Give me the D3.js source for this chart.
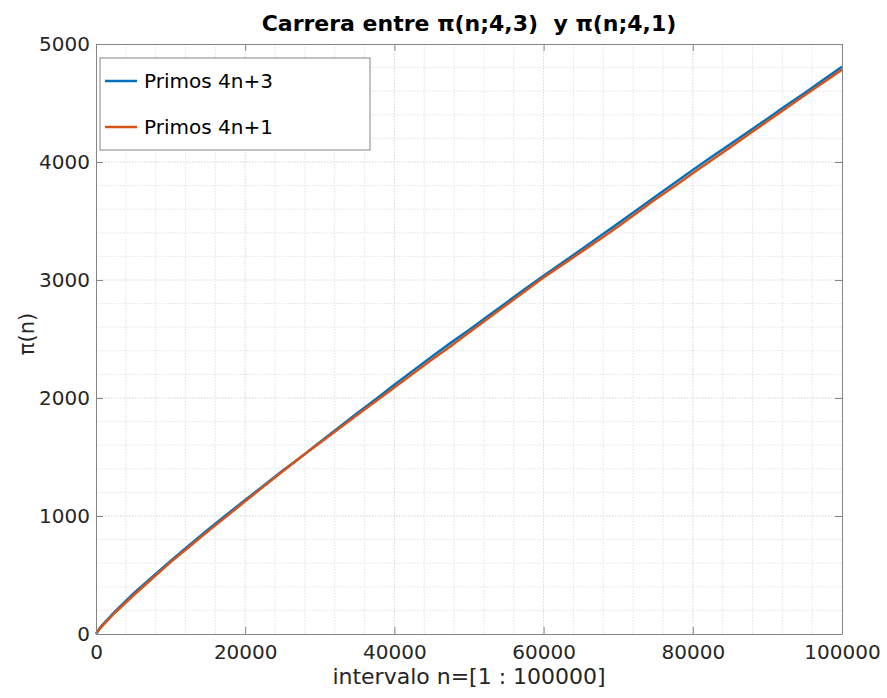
<!DOCTYPE html>
<html lang="es">
<head>
<meta charset="utf-8">
<title>Carrera entre primos</title>
<script src="https://cdn.jsdelivr.net/npm/d3@7"></script>
<style>
  body { margin: 0; background: #fff; }
  svg text { font-family: "DejaVu Sans", sans-serif; fill: #262626; }
</style>
</head>
<body>
<svg width="887" height="698"></svg>
<script>
// muestras de n y conteos
const nValues = [0, 500, 1000, 2500, 5000, 7500, 10000, 12500, 15000, 17500, 20000,
  22500, 25000, 27500, 30000, 32500, 35000, 37500, 40000, 42500, 45000,
  47500, 50000, 52500, 55000, 57500, 60000, 62500, 65000, 67500, 70000,
  72500, 75000, 77500, 80000, 82500, 85000, 87500, 90000, 92500, 95000,
  97500, 100000];
const primos4n3 = [0, 50, 87, 188, 342, 481, 619, 752, 883, 1011, 1136,
  1258, 1384, 1501, 1626, 1749, 1871, 1989, 2112, 2232, 2350,
  2465, 2576, 2693, 2808, 2923, 3035, 3146, 3256, 3369, 3480,
  3594, 3708, 3820, 3932, 4042, 4150, 4258, 4367, 4478, 4585,
  4696, 4808];
const primos4n1 = [0, 44, 80, 178, 326, 468, 609, 739, 870, 997, 1125,
  1251, 1377, 1502, 1618, 1737, 1855, 1973, 2090, 2208, 2324,
  2437, 2556, 2672, 2788, 2905, 3021, 3128, 3236, 3343, 3454,
  3568, 3684, 3793, 3904, 4015, 4124, 4235, 4345, 4455, 4566,
  4674, 4783];
const xTicks = [0, 20000, 40000, 60000, 80000, 100000];
const yTicks = [0, 1000, 2000, 3000, 4000, 5000];
const series = [
  {name: "Primos 4n+3", values: primos4n3, color: "#0072BD"},
  {name: "Primos 4n+1", values: primos4n1, color: "#D95319"}
];

const svg = d3.select("svg");
const m = {left: 96, right: 842, top: 44, bottom: 634};
const x = d3.scaleLinear().domain([0, 100000]).range([m.left, m.right]);
const y = d3.scaleLinear().domain([0, 5000]).range([m.bottom, m.top]);

// rejilla menor y mayor
const grid = svg.append("g");
grid.selectAll(".gx").data(d3.range(4000, 100000, 4000))
  .enter().append("line")
  .attr("x1", d => x(d)).attr("x2", d => x(d))
  .attr("y1", m.top).attr("y2", m.bottom)
  .attr("stroke", d => d % 20000 ? "#e3e3e3" : "#d6d6d6")
  .attr("stroke-dasharray", "1.5,1.5");
grid.selectAll(".gy").data(d3.range(200, 5000, 200))
  .enter().append("line")
  .attr("y1", d => y(d)).attr("y2", d => y(d))
  .attr("x1", m.left).attr("x2", m.right)
  .attr("stroke", d => d % 1000 ? "#e3e3e3" : "#d6d6d6")
  .attr("stroke-dasharray", "1.5,1.5");

// curvas
const line = d3.line().x((d, i) => x(nValues[i])).y(d => y(d));
series.forEach(s => {
  svg.append("path")
    .datum(s.values)
    .attr("d", line)
    .attr("fill", "none")
    .attr("stroke", s.color)
    .attr("stroke-width", 2.5)
    .attr("stroke-linejoin", "round");
});

// ejes (caja con marcas hacia dentro)
const axisStyle = g => {
  g.select(".domain").attr("stroke", "#858585");
  g.selectAll(".tick line").attr("stroke", "#858585");
  g.selectAll(".tick text").style("font-size", "20px").attr("fill", "#262626");
};
svg.append("g").attr("transform", `translate(0,${m.bottom})`)
  .call(d3.axisBottom(x).tickValues(xTicks).tickSize(-7).tickPadding(11).tickSizeOuter(0).tickFormat(d3.format("d")))
  .call(axisStyle);
svg.append("g").attr("transform", `translate(${m.left},0)`)
  .call(d3.axisLeft(y).tickValues(yTicks).tickSize(-7).tickPadding(6).tickSizeOuter(0).tickFormat(d3.format("d")))
  .call(axisStyle);
svg.append("g").attr("transform", `translate(0,${m.top})`)
  .call(d3.axisTop(x).tickValues(xTicks).tickSize(-7).tickSizeOuter(0).tickFormat(""))
  .call(axisStyle);
svg.append("g").attr("transform", `translate(${m.right},0)`)
  .call(d3.axisRight(y).tickValues(yTicks).tickSize(-7).tickSizeOuter(0).tickFormat(""))
  .call(axisStyle);

// titulo y etiquetas
svg.append("text").attr("x", (m.left + m.right) / 2).attr("y", 31)
  .attr("text-anchor", "middle").style("font-size", "22px").style("font-weight", "bold")
  .style("fill", "#000").style("white-space", "pre")
  .text("Carrera entre π(n;4,3)  y π(n;4,1)");
svg.append("text").attr("x", (m.left + m.right) / 2).attr("y", 684)
  .attr("text-anchor", "middle").style("font-size", "22px")
  .text("intervalo n=[1 : 100000]");
svg.append("text").attr("transform", "translate(34,334) rotate(-90)")
  .attr("text-anchor", "middle").style("font-size", "21px")
  .text("π(n)");

// leyenda
const legend = svg.append("g").attr("transform", "translate(100,58)");
legend.append("rect").attr("width", 270).attr("height", 92)
  .attr("fill", "#fff").attr("stroke", "#858585");
series.forEach((s, i) => {
  const ly = 23 + i * 46;
  legend.append("line").attr("x1", 5).attr("x2", 37).attr("y1", ly).attr("y2", ly)
    .attr("stroke", s.color).attr("stroke-width", 2.5);
  legend.append("text").attr("x", 44).attr("y", ly + 7)
    .style("font-size", "20px").style("fill", "#000").text(s.name);
});
</script>
</body>
</html>
